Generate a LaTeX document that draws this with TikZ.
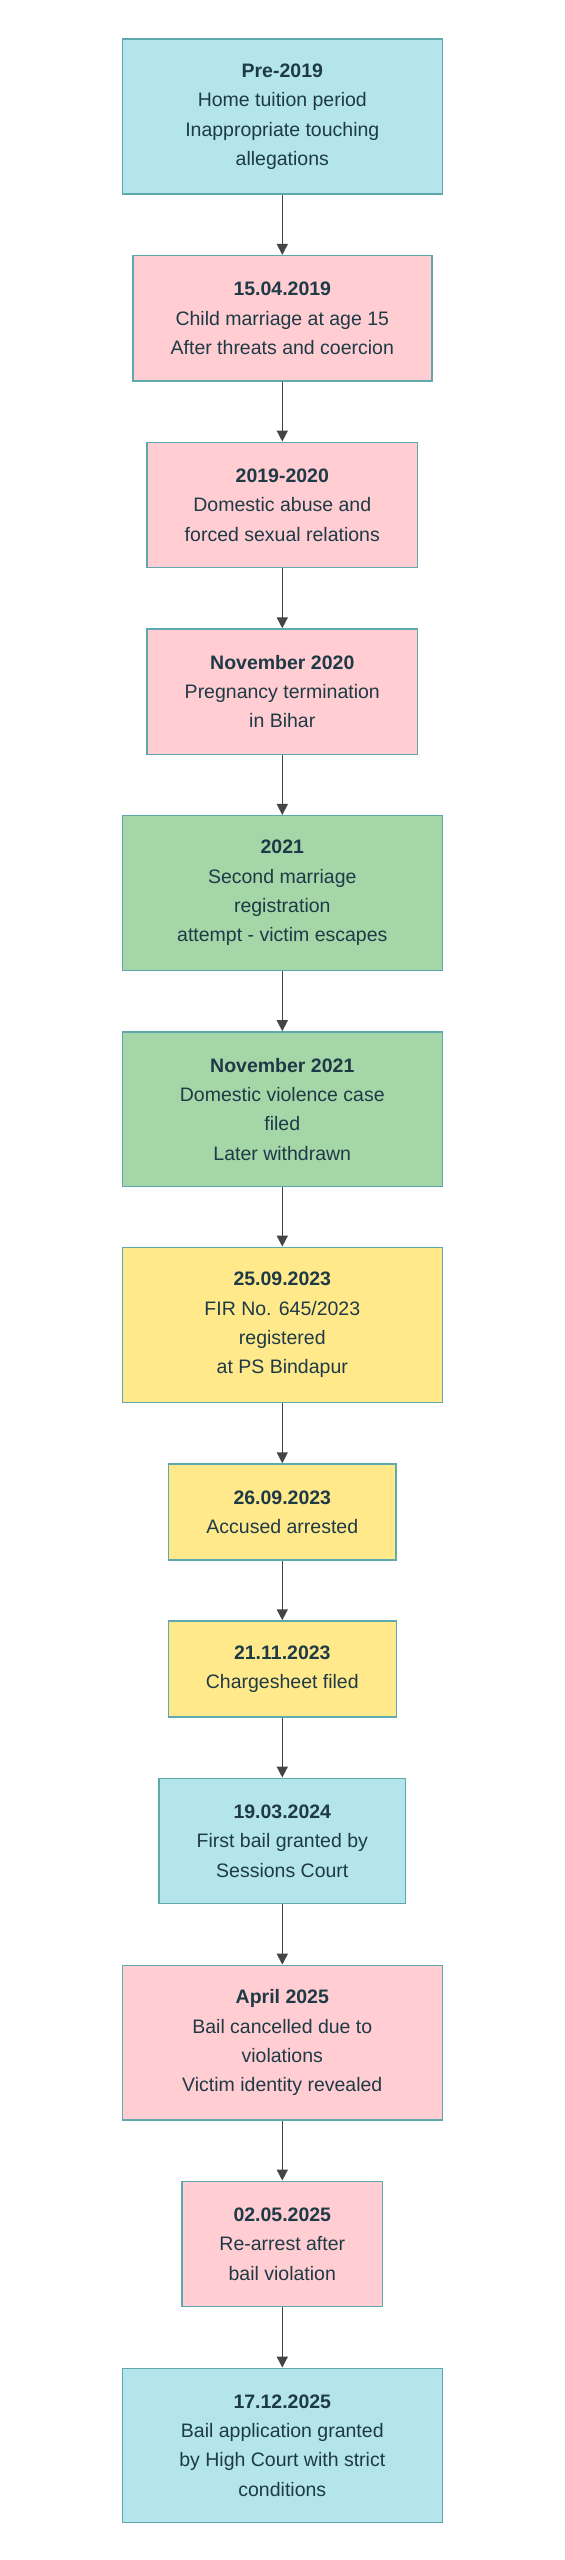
\documentclass[tikz,border=0pt]{standalone}
\usepackage{fontspec}
\setmainfont{Liberation Sans}
\usetikzlibrary{arrows.meta}
\definecolor{bluef}{HTML}{B3E5EB}
\definecolor{pinkf}{HTML}{FFCDD2}
\definecolor{greenf}{HTML}{A5D6A7}
\definecolor{yellowf}{HTML}{FFE98A}
\definecolor{edgec}{HTML}{5FA8AE}
\definecolor{txtc}{HTML}{1E3A46}
\definecolor{arrc}{HTML}{444444}
\tikzset{
  evbox/.style={draw=edgec, line width=1.5pt, rectangle, inner sep=0pt, align=center,
    text=txtc, font=\fontsize{19.5}{29.3}\selectfont},
  bluebox/.style={evbox, fill=bluef},
  pinkbox/.style={evbox, fill=pinkf},
  greenbox/.style={evbox, fill=greenf},
  yellowbox/.style={evbox, fill=yellowf},
  flow/.style={draw=arrc, line width=1.5pt, -{Triangle[length=11pt,width=11pt]}}
}
\begin{document}
\begin{tikzpicture}[x=1pt,y=1pt]
\fill[white] (0,0) rectangle (565,-2560);
\useasboundingbox (0,0) rectangle (565,-2560);
\node[bluebox, minimum width=320pt, minimum height=155pt] (n1) at (282.3,-116.7)
  {\textbf{Pre-2019}\\Home tuition period\\Inappropriate touching\\allegations};
\node[pinkbox, minimum width=299pt, minimum height=125.3pt] (n2) at (282.3,-318.3)
  {\textbf{15.04.2019}\\Child marriage at age 15\\After threats and coercion};
\node[pinkbox, minimum width=270.6pt, minimum height=125.4pt] (n3) at (282.3,-505)
  {\textbf{2019-2020}\\Domestic abuse and\\forced sexual relations};
\node[pinkbox, minimum width=270.6pt, minimum height=125.3pt] (n4) at (282.3,-691.7)
  {\textbf{November 2020}\\Pregnancy termination\\in Bihar};
\node[greenbox, minimum width=320pt, minimum height=154.6pt] (n5) at (282.3,-893)
  {\textbf{2021}\\Second marriage\\registration\\attempt - victim escapes};
\node[greenbox, minimum width=320pt, minimum height=154.7pt] (n6) at (282.3,-1109.3)
  {\textbf{November 2021}\\Domestic violence case\\filed\\Later withdrawn};
\node[yellowbox, minimum width=320pt, minimum height=155.4pt] (n7) at (282.3,-1325)
  {\textbf{25.09.2023}\\FIR No. 645/2023\\registered\\at PS Bindapur};
\node[yellowbox, minimum width=227.3pt, minimum height=96pt] (n8) at (282.3,-1512)
  {\textbf{26.09.2023}\\Accused arrested};
\node[yellowbox, minimum width=228pt, minimum height=96pt] (n9) at (282.3,-1669)
  {\textbf{21.11.2023}\\Chargesheet filed};
\node[bluebox, minimum width=246.6pt, minimum height=125.4pt] (n10) at (282.3,-1841)
  {\textbf{19.03.2024}\\First bail granted by\\Sessions Court};
\node[pinkbox, minimum width=320pt, minimum height=154.7pt] (n11) at (282.3,-2042.7)
  {\textbf{April 2025}\\Bail cancelled due to\\violations\\Victim identity revealed};
\node[pinkbox, minimum width=200.6pt, minimum height=125.4pt] (n12) at (282.3,-2244)
  {\textbf{02.05.2025}\\Re-arrest after\\bail violation};
\node[bluebox, minimum width=320pt, minimum height=154.4pt] (n13) at (282.3,-2445.5)
  {\textbf{17.12.2025}\\Bail application granted\\by High Court with strict\\conditions};
\foreach \a/\b in {n1/n2,n2/n3,n3/n4,n4/n5,n5/n6,n6/n7,n7/n8,n8/n9,n9/n10,n10/n11,n11/n12,n12/n13}
  \draw[flow] (\a.south) -- (\b.north);
\end{tikzpicture}
\end{document}
